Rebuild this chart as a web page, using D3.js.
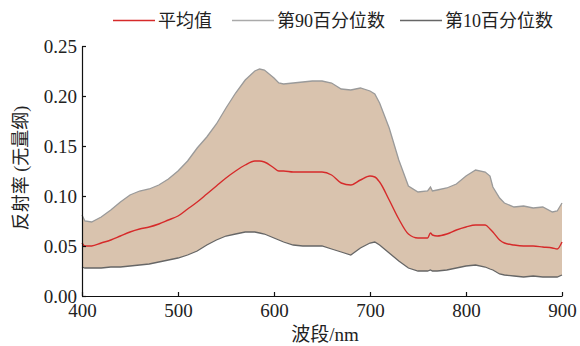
<!DOCTYPE html>
<html>
<head>
<meta charset="utf-8">
<script src="https://cdn.jsdelivr.net/npm/d3@7"></script>
<style>
  body { margin: 0; background: #fff; }
  svg text { font-family: "Liberation Serif", "Times New Roman", "Noto Sans CJK SC", serif; fill: #222; }
</style>
</head>
<body>
<script>
// wavelengths (nm) and reflectance series
const wavelengths = [400, 403, 410, 420, 430, 440, 450, 460, 470, 480, 490, 500, 510, 520, 530, 540, 550, 560, 570, 580,
  585, 590, 600, 605, 610, 620, 630, 640, 650, 660, 670, 680, 690, 700, 705, 710, 720, 730, 740, 750,
  760, 763, 765, 770, 780, 790, 800, 810, 820, 825, 828, 835, 840, 850, 860, 870, 880, 890, 895, 900];

const p90 = [0.081, 0.075, 0.074, 0.079, 0.086, 0.094, 0.101, 0.105, 0.107, 0.111, 0.117, 0.125, 0.135, 0.148, 0.159, 0.172, 0.188, 0.203, 0.216, 0.225,
  0.227, 0.226, 0.218, 0.213, 0.212, 0.213, 0.214, 0.215, 0.215, 0.213, 0.207, 0.206, 0.208, 0.205, 0.202, 0.193, 0.168, 0.136, 0.110, 0.104,
  0.105, 0.109, 0.105, 0.106, 0.108, 0.112, 0.120, 0.126, 0.124, 0.120, 0.109, 0.098, 0.093, 0.089, 0.090, 0.088, 0.089, 0.084, 0.085, 0.093];

const meanVals = [0.053, 0.050, 0.050, 0.053, 0.056, 0.060, 0.064, 0.067, 0.069, 0.072, 0.076, 0.080, 0.087, 0.094, 0.102, 0.110, 0.118, 0.125, 0.131, 0.135,
  0.135, 0.134, 0.128, 0.125, 0.125, 0.124, 0.124, 0.124, 0.124, 0.121, 0.113, 0.111, 0.116, 0.120, 0.119, 0.114, 0.096, 0.077, 0.062, 0.058,
  0.058, 0.063, 0.061, 0.060, 0.062, 0.066, 0.069, 0.071, 0.071, 0.067, 0.064, 0.056, 0.053, 0.051, 0.050, 0.050, 0.049, 0.048, 0.047, 0.054];

const p10 = [0.029, 0.028, 0.028, 0.028, 0.029, 0.029, 0.030, 0.031, 0.032, 0.034, 0.036, 0.038, 0.041, 0.045, 0.051, 0.056, 0.060, 0.062, 0.064, 0.064,
  0.063, 0.062, 0.058, 0.056, 0.054, 0.051, 0.050, 0.050, 0.050, 0.047, 0.044, 0.041, 0.048, 0.053, 0.054, 0.051, 0.043, 0.035, 0.028, 0.025,
  0.025, 0.026, 0.025, 0.025, 0.026, 0.028, 0.030, 0.031, 0.029, 0.027, 0.026, 0.022, 0.021, 0.020, 0.019, 0.020, 0.019, 0.019, 0.019, 0.021];

const xTicks = [400, 500, 600, 700, 800, 900];
const yTicks = [0, 0.05, 0.10, 0.15, 0.20, 0.25];
const legendItems = ["平均值", "第90百分位数", "第10百分位数"];

const margin = { top: 46, right: 18, bottom: 50, left: 82 },
      width  = 580 - margin.left - margin.right,
      height = 346 - margin.top - margin.bottom;

const svg = d3.select("body")
  .append("svg")
    .attr("width", 580)
    .attr("height", 346)
  .append("g")
    .attr("transform", `translate(${margin.left},${margin.top})`);

const x = d3.scaleLinear().domain([400, 900]).range([0, width]);
const y = d3.scaleLinear().domain([0, 0.25]).range([height, 0]);

const rows = wavelengths.map((w, i) => ({ w, hi: p90[i], mean: meanVals[i], lo: p10[i] }));

// band between percentiles
svg.append("path")
  .datum(rows)
  .attr("fill", "#d9c3ae")
  .attr("d", d3.area()
    .x(d => x(d.w))
    .y0(d => y(d.lo))
    .y1(d => y(d.hi)));

const line = (key, curve) => d3.line().curve(curve || d3.curveLinear).x(d => x(d.w)).y(d => y(d[key]));

svg.append("path").datum(rows)
  .attr("fill", "none").attr("stroke", "#9a9a9a").attr("stroke-width", 1.3)
  .attr("d", line("hi"));

svg.append("path").datum(rows)
  .attr("fill", "none").attr("stroke", "#666").attr("stroke-width", 1.3)
  .attr("d", line("lo"));

svg.append("path").datum(rows)
  .attr("fill", "none").attr("stroke", "#d62a2a").attr("stroke-width", 1.4)
  .attr("d", line("mean", d3.curveMonotoneX));

// axes, ticks pointing inward
const xAxis = svg.append("g")
  .attr("transform", `translate(0,${height})`)
  .call(d3.axisBottom(x).tickValues(xTicks).tickSizeInner(-4).tickSizeOuter(0).tickPadding(8));

const yAxis = svg.append("g")
  .call(d3.axisLeft(y).tickValues(yTicks).tickSizeInner(-4).tickSizeOuter(0).tickPadding(5).tickFormat(d3.format(".2f")));

[xAxis, yAxis].forEach(g => {
  g.selectAll("path, line").attr("stroke", "#111").attr("stroke-width", 1.2);
  g.selectAll("text").attr("font-size", "19px")
    .style("font-family", "'Liberation Serif', 'Times New Roman', serif").attr("fill", "#222");
});

// axis titles
svg.append("text")
  .attr("x", width / 2 + 3)
  .attr("y", height + 45)
  .attr("text-anchor", "middle")
  .attr("font-size", "19px")
  .text("波段/nm");

svg.append("text")
  .attr("transform", "rotate(-90)")
  .attr("x", -height / 2 + 3)
  .attr("y", -55)
  .attr("text-anchor", "middle")
  .attr("font-size", "18px")
  .text("反射率 (无量纲)");

// legend
const legendColors = ["#d62a2a", "#aaa", "#666"];
const legendX = [113, 232, 400];
const legend = d3.select("svg").append("g");

legendItems.forEach((t, i) => {
  const g = legend.append("g").attr("transform", `translate(${legendX[i]}, 20.5)`);
  g.append("line")
    .attr("x1", 0).attr("x2", 42)
    .attr("stroke", legendColors[i]).attr("stroke-width", 1.4);
  g.append("text")
    .attr("x", 45)
    .attr("y", 0)
    .attr("dy", "0.36em")
    .attr("font-size", "18px")
    .text(t);
});
</script>
</body>
</html>
